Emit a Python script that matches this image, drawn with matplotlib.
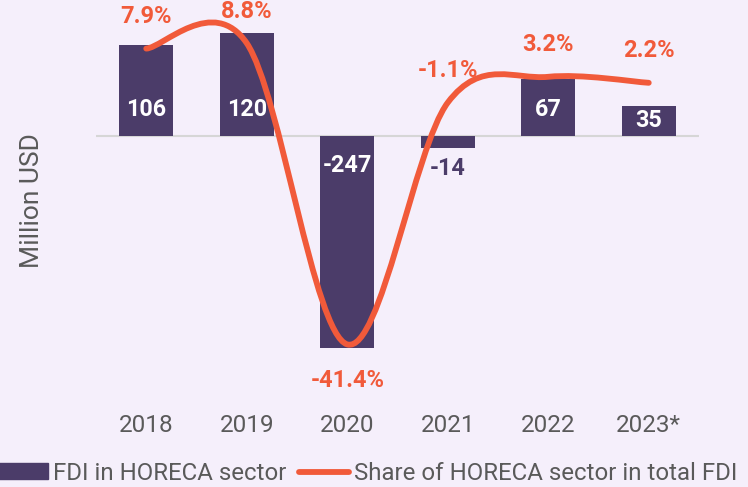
import numpy as np
import matplotlib
matplotlib.use("Agg")
import matplotlib.pyplot as plt
from matplotlib.path import Path
from matplotlib.patches import PathPatch, Patch
from matplotlib.lines import Line2D

plt.rcParams['font.family'] = ['Roboto', 'DejaVu Sans']

years = ["2018", "2019", "2020", "2021", "2022", "2023*"]
fdi = [106, 120, -247, -14, 67, 35]
share = [7.9, 8.8, -41.4, -1.1, 3.2, 2.2]

BG = "#f5effb"
BAR = "#4b3c69"
LINE = "#f15a3a"
GREY = "#5a5a5a"

fig = plt.figure(figsize=(7.48, 4.87), dpi=100, facecolor=BG)
W, H = 748, 487
top_px, bot_px = 5, 400
ax = fig.add_axes([96 / W, (H - bot_px) / H, (699 - 96) / W, (bot_px - top_px) / H])
ax.set_facecolor(BG)

# primary: zero at y=136 px, 0.858 px per unit
k1 = 0.858
ax.set_ylim(-(bot_px - 136) / k1, (136 - top_px) / k1)
ax.set_xlim(-0.5, 5.5)
x = np.arange(len(years))
ax.bar(x, fdi, width=0.54, color=BAR, zorder=2)
ax.axhline(0, color="#d6d6d6", lw=1.5, zorder=1)

for xi, v in zip(x, fdi):
    hpx = abs(v) * k1
    sign = 1 if v > 0 else -1
    if hpx > 52:
        off, col = 27 if v > 0 else 29, "white"
    elif hpx > 25:
        off, col = hpx / 2, "white"
    else:
        off, col = hpx + 20, BAR
    ax.annotate(str(v), (xi, 0), xytext=(0, sign * off), textcoords="offset pixels",
                ha="center", va="center", fontsize=16.8, fontweight="bold", color=col, zorder=4)

ax.set_xticks(x)
ax.set_xticklabels(years, fontsize=17.5, color=GREY)
ax.tick_params(axis="x", length=0, pad=10)
ax.set_yticks([])
for s in ax.spines.values():
    s.set_visible(False)
fig.text(32 / W, 1 - 201 / H, "Million USD", rotation=90, ha="center", va="center",
         fontsize=19, color=GREY)

# secondary: zero at y=96 px, 6 px per percent
ax2 = ax.twinx()
k2 = 6.0
ax2.set_ylim(-(bot_px - 96) / k2, (96 - top_px) / k2)
ax2.set_yticks([])
for s in ax2.spines.values():
    s.set_visible(False)

# smooth curve (Catmull-Rom as cubic Bezier)
pts = np.column_stack([x, share]).astype(float)
n = len(pts)
verts = [pts[0]]
codes = [Path.MOVETO]
for i in range(n - 1):
    p0, p1, p2, p3 = pts[max(i - 1, 0)], pts[i], pts[i + 1], pts[min(i + 2, n - 1)]
    verts += [p1 + (p2 - p0) / 6, p2 - (p3 - p1) / 6, p2]
    codes += [Path.CURVE4] * 3
ax2.add_patch(PathPatch(Path(verts, codes), fill=False, edgecolor=LINE, lw=4.2,
                        capstyle="round", joinstyle="round", zorder=3))

lowest = int(np.argmin(share))
for i, v in enumerate(share):
    off = -36 if i == lowest else 32
    ax2.annotate(f"{v}%", (x[i], v), xytext=(0, off), textcoords="offset pixels",
                 ha="center", va="center", fontsize=17, fontweight="bold", color=LINE)

handles = [Patch(facecolor=BAR, edgecolor=BAR),
           Line2D([0], [0], color=LINE, lw=4.2, solid_capstyle="round")]
fig.legend(handles, ["FDI in HORECA sector", "Share of HORECA sector in total FDI"],
           loc="lower left", bbox_to_anchor=(-0.006, 0.0), ncol=2, frameon=False,
           fontsize=17.3, labelcolor=GREY, handlelength=2.1, handleheight=0.6,
           handletextpad=0.2, columnspacing=0.5, borderpad=0.1, borderaxespad=0.0)

fig.savefig("out.png", dpi=100, facecolor=BG)
